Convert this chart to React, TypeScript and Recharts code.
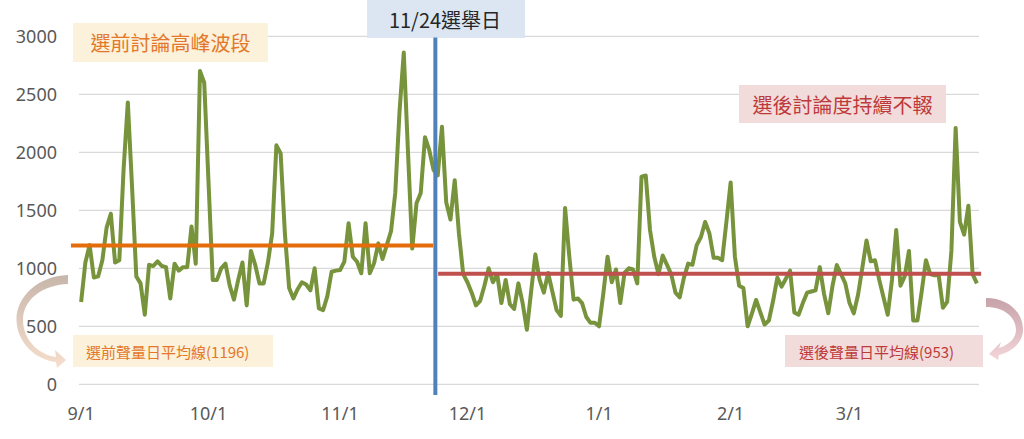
import React from 'react';
import { LineChart, Line, XAxis, YAxis, CartesianGrid, ReferenceLine, Customized } from 'recharts';

// Daily discussion volume, 9/1 – 3/31
const sepValues = [710, 1050, 1200, 920, 930, 1070, 1350, 1470, 1050, 1070, 1850, 2430, 1700, 930, 870, 600, 1030, 1020, 1060, 1020, 1010, 740, 1040, 980, 1010, 1010, 1360, 1040, 2700, 2600];
const octValues = [1750, 900, 900, 1000, 1040, 850, 730, 900, 1050, 680, 1150, 1030, 870, 870, 1050, 1300, 2060, 1990, 1300, 830, 740, 820, 880, 860, 810, 1000, 655, 640, 760, 970, 980];
const novValues = [985, 1057, 1388, 1100, 1057, 957, 1388, 957, 1043, 1215, 1080, 1200, 1320, 1650, 2350, 2860, 2000, 1170, 1560, 1650, 2130, 2020, 1850, 1800, 2220, 1570, 1420, 1760, 1300, 950];
const decValues = [880, 790, 680, 720, 850, 1000, 880, 950, 700, 900, 690, 650, 870, 700, 470, 800, 1120, 900, 790, 960, 800, 640, 590, 1520, 1100, 730, 740, 700, 580, 530, 530];
const janValues = [500, 780, 1100, 880, 990, 700, 960, 1000, 990, 870, 1790, 1800, 1330, 1100, 950, 1110, 1030, 950, 790, 750, 920, 1040, 1030, 1200, 1270, 1400, 1300, 1090, 1090, 1070, 1400];
const febValues = [1740, 1100, 850, 830, 500, 610, 727, 620, 515, 550, 720, 920, 842, 910, 980, 620, 600, 700, 790, 800, 810, 1010, 780, 612, 850, 1028, 950, 870];
const marValues = [700, 612, 770, 1000, 1240, 1060, 1070, 900, 750, 600, 900, 1330, 850, 930, 1150, 550, 550, 800, 1070, 950, 940, 940, 660, 710, 1150, 2210, 1400, 1290, 1540, 950, 870];

const monthLabels = ['9/1', '10/1', '11/1', '12/1', '1/1', '2/1', '3/1'];
const yTicks = [0, 500, 1000, 1500, 2000, 2500, 3000];
const preElectionAvg = 1196;
const postElectionAvg = 953;

const months = [sepValues, octValues, novValues, decValues, janValues, febValues, marValues];
const allValues = months.flat();
const data = allValues.map((v, i) => ({ i, v }));
const monthStarts: number[] = [];
{
  let acc = 0;
  months.forEach((m) => {
    monthStarts.push(acc);
    acc += m.length;
  });
}
const xTicks = monthStarts.slice(0, monthLabels.length);
const lastIndex = allValues.length - 1;

const CJK = '"Noto Sans CJK TC", "Noto Sans CJK SC", sans-serif';

const Annotations = () => (
  <g>
    <defs>
      <linearGradient id="arrowL" x1="0" y1="0" x2="0" y2="1">
        <stop offset="0%" stopColor="#C7B6AA" />
        <stop offset="100%" stopColor="#F7DECD" />
      </linearGradient>
      <linearGradient id="arrowR" x1="0" y1="0" x2="0" y2="1">
        <stop offset="0%" stopColor="#C6A2A9" />
        <stop offset="100%" stopColor="#F3D5D8" />
      </linearGradient>
    </defs>
    <path
      d="M 68 275 C 38 276, 16 297, 16.5 320 C 17 343, 36 360, 56 362 L 57 368 L 66 360 L 55 350 L 56 357 C 40 355, 23 341, 23 320 C 23 300, 42 285, 68 284 Z"
      fill="url(#arrowL)"
    />
    <path
      d="M 986 298 C 1008 298, 1023 312, 1023 330 C 1023 342, 1012 352, 999 355 L 998 360 L 989 354 L 1001 342 L 999 348 C 1009 345, 1016 338, 1016 330 C 1016 317, 1004 307, 986 307 Z"
      fill="url(#arrowR)"
    />
    <rect x={73} y={23} width={195} height={39} fill="#FCF1DA" />
    <text x={170.5} y={42.5} textAnchor="middle" dominantBaseline="central" fontFamily={CJK} fontSize={20} fill="#E3782A">
      選前討論高峰波段
    </text>
    <rect x={739} y={85} width={207} height={38} fill="#F2DCDB" />
    <text x={842.5} y={104} textAnchor="middle" dominantBaseline="central" fontFamily={CJK} fontSize={20} fill="#BE3A3A">
      選後討論度持續不輟
    </text>
    <rect x={73} y={335} width={200} height={32} fill="#FCF1DA" />
    <text x={86} y={351.5} textAnchor="start" dominantBaseline="central" fontFamily={CJK} fontSize={15} fill="#E3782A">
      選前聲量日平均線(1196)
    </text>
    <rect x={785} y={335} width={198} height={32} fill="#F2DCDB" />
    <text x={799} y={351.5} textAnchor="start" dominantBaseline="central" fontFamily={CJK} fontSize={15} fill="#BE3A3A">
      選後聲量日平均線(953)
    </text>
    <rect x={367} y={0} width={158} height={38} fill="#DCE6F2" />
    <text x={445} y={19} textAnchor="middle" dominantBaseline="central" fontFamily={CJK} fontSize={20} fill="#262626">
      11/24選舉日
    </text>
  </g>
);

export default function App() {
  return (
    <div style={{ position: 'absolute', left: 0, top: 0, width: 1024, height: 439, background: '#fff' }}>
      <LineChart width={1024} height={439} data={data} margin={{ top: 36.3, right: 45, bottom: 0, left: 0 }}>
        <CartesianGrid vertical={false} stroke="#D9D9D9" strokeWidth={1.3} />
        <XAxis
          dataKey="i"
          type="number"
          domain={[-0.5, lastIndex + 0.5]}
          ticks={xTicks}
          tickFormatter={(v: number) => monthLabels[xTicks.indexOf(v)] ?? ''}
          axisLine={false}
          tickLine={false}
          tickSize={0}
          tickMargin={23}
          height={54.7}
          interval={0}
          tick={{ fill: '#595959', fontSize: 18, fontFamily: '"Noto Sans", sans-serif' }}
        />
        <YAxis
          type="number"
          domain={[0, 3000]}
          ticks={yTicks}
          width={79}
          axisLine={false}
          tickLine={false}
          tickSize={0}
          tickMargin={22}
          interval={0}
          tick={{ fill: '#595959', fontSize: 18, fontFamily: '"Noto Sans", sans-serif' }}
        />
        <Customized component={Annotations} />
        <Line
          type="linear"
          dataKey="v"
          stroke="#77933C"
          strokeWidth={4}
          strokeLinejoin="round"
          dot={false}
          activeDot={false}
          isAnimationActive={false}
        />
        <ReferenceLine
          segment={[{ x: -2.4, y: preElectionAvg }, { x: 82.9, y: preElectionAvg }]}
          stroke="#E46C0A"
          strokeWidth={4}
          ifOverflow="visible"
        />
        <ReferenceLine
          segment={[{ x: 84.1, y: postElectionAvg }, { x: 212, y: postElectionAvg }]}
          stroke="#C0504D"
          strokeWidth={4}
          ifOverflow="visible"
        />
        <ReferenceLine
          segment={[{ x: 83.44, y: 2990 }, { x: 83.44, y: -92 }]}
          stroke="#4F81BD"
          strokeWidth={4}
          ifOverflow="visible"
        />
      </LineChart>
    </div>
  );
}
